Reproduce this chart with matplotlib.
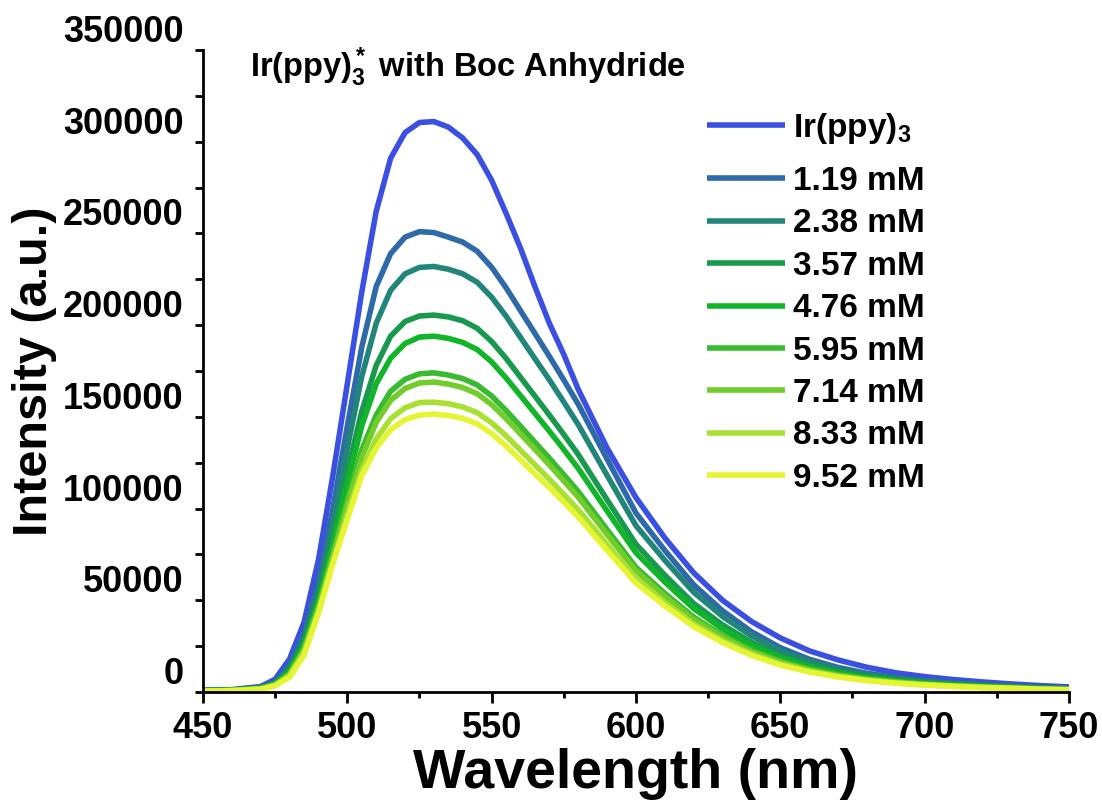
import matplotlib
matplotlib.use('Agg')
import matplotlib.pyplot as plt
from matplotlib.ticker import MultipleLocator

# 字体设置
plt.rcParams['font.family'] = 'Liberation Sans'
plt.rcParams['font.weight'] = 'bold'
plt.rcParams['mathtext.fontset'] = 'custom'
plt.rcParams['mathtext.rm'] = 'Liberation Sans:bold'
plt.rcParams['mathtext.it'] = 'Liberation Sans:bold'
plt.rcParams['mathtext.bf'] = 'Liberation Sans:bold'
plt.rcParams['mathtext.default'] = 'rm'

# 波长 (nm)
wavelength = [450, 460, 470, 475, 480, 485, 490, 495, 500, 505, 510, 515, 520, 525,
              530, 535, 540, 545, 550, 555, 560, 565, 570, 575, 580, 590, 600, 610,
              620, 630, 640, 650, 660, 670, 680, 690, 700, 710, 720, 730, 740, 750]

# 各浓度下的发光强度
ir_ppy3 = [1000, 1300, 3000, 7000, 18000, 38000, 72000, 118000, 168000, 218000, 262000,
           291000, 305000, 310500, 311000, 308000, 302000, 293000, 279000, 261000, 242000,
           221000, 201000, 184000, 165000, 133000, 106000, 84000, 65000, 50000, 38500,
           29500, 22500, 17500, 13500, 10500, 8400, 6800, 5500, 4400, 3500, 2800]
c_119 = [800, 1100, 2500, 5500, 14500, 32000, 60000, 100000, 145000, 188000, 221000,
         239000, 248000, 251000, 250500, 248000, 245300, 240300, 231600, 220400, 207900,
         195500, 183000, 170100, 156900, 127000, 97600, 77200, 58500, 44300, 32900,
         24200, 17900, 13400, 10200, 8000, 6200, 5000, 4000, 3200, 2500, 2000]
c_238 = [800, 1000, 2300, 5000, 13000, 29000, 55000, 92000, 133000, 172000, 201000,
         219000, 228000, 231500, 232000, 230500, 228000, 223400, 215300, 204900, 193300,
         181700, 170200, 158100, 145800, 118100, 90700, 71800, 54400, 41200, 30600,
         22500, 16700, 12500, 9500, 7400, 5800, 4600, 3700, 3000, 2300, 1900]
c_357 = [700, 1000, 2100, 4500, 12000, 27000, 51000, 84000, 120000, 153000, 178000,
         194000, 202000, 205000, 205500, 204500, 202400, 198300, 191100, 181900, 171600,
         161300, 151000, 140400, 129500, 104800, 80600, 63700, 48300, 36600, 27100,
         19900, 14800, 11100, 8400, 6600, 5100, 4100, 3300, 2700, 2100, 1600]
c_476 = [700, 900, 2000, 4300, 11000, 25500, 49000, 80000, 114000, 145000, 168000,
         182000, 190000, 193500, 194000, 192800, 190600, 186700, 180000, 171200, 161600,
         151900, 142200, 132200, 121900, 98700, 75900, 60000, 45500, 34400, 25500,
         18800, 13900, 10400, 7900, 6200, 4800, 3900, 3100, 2500, 1900, 1500]
c_595 = [600, 900, 1900, 4000, 10000, 24000, 47000, 76000, 105000, 132000, 151000,
         164000, 170500, 173500, 174000, 172800, 170900, 167400, 161400, 153500, 144900,
         136200, 127500, 118500, 109300, 88500, 68000, 53800, 40800, 30900, 22900,
         16800, 12500, 9400, 7100, 5600, 4300, 3500, 2800, 2300, 1700, 1400]
c_714 = [600, 800, 1800, 3800, 9500, 23000, 45500, 74000, 102000, 128000, 147000,
         159000, 165500, 168500, 169000, 167900, 166000, 162600, 156700, 149100, 140700,
         132300, 123800, 115100, 106200, 85900, 66100, 52200, 39600, 30000, 22200,
         16300, 12100, 9100, 6900, 5400, 4200, 3400, 2700, 2200, 1700, 1300]
c_833 = [500, 800, 1700, 3600, 9000, 21500, 44000, 71000, 97000, 121000, 138000,
         149000, 155000, 157800, 158000, 157200, 155400, 152300, 146800, 139700, 131800,
         123900, 116000, 107800, 99400, 80500, 61900, 48900, 37100, 28100, 20800,
         15300, 11400, 8500, 6500, 5000, 3900, 3200, 2500, 2100, 1600, 1300]
c_952 = [500, 700, 1500, 3500, 8000, 20000, 43000, 70000, 94000, 118000, 133000,
         143000, 148500, 151000, 151500, 150800, 149200, 146200, 140900, 134100, 126500,
         118900, 111400, 103500, 95400, 77300, 59400, 47000, 35600, 27000, 20000,
         14700, 10900, 8200, 6200, 4800, 3800, 3000, 2400, 2000, 1500, 1200]

series = [ir_ppy3, c_119, c_238, c_357, c_476, c_595, c_714, c_833, c_952]
labels = [r'Ir(ppy)$_3$', '1.19 mM', '2.38 mM', '3.57 mM', '4.76 mM',
          '5.95 mM', '7.14 mM', '8.33 mM', '9.52 mM']
colors = ['#3b4fe0', '#2e6aa8', '#21857a', '#18994e', '#12b52a',
          '#38bb30', '#72cc2a', '#a9e034', '#e6f533']

fig = plt.figure(figsize=(11.02, 8.11), dpi=100)
ax = fig.add_axes([0.1842, 0.1467, 0.7858, 0.7916])

lines = []
for y, lab, col in zip(series, labels, colors):
    ln, = ax.plot(wavelength, y, color=col, lw=4.0, label=lab, solid_capstyle='butt')
    lines.append(ln)

ax.set_xlim(450, 750)
ax.set_ylim(0, 350000)
ax.xaxis.set_major_locator(MultipleLocator(50))
ax.xaxis.set_minor_locator(MultipleLocator(25))
ax.yaxis.set_major_locator(MultipleLocator(50000))
ax.yaxis.set_minor_locator(MultipleLocator(25000))

for side in ['top', 'right']:
    ax.spines[side].set_visible(False)
for side in ['left', 'bottom']:
    ax.spines[side].set_linewidth(2.0)

ax.tick_params(axis='both', which='both', direction='out', width=2.0, labelsize=26)
ax.tick_params(axis='x', which='major', length=8, pad=6)
ax.tick_params(axis='x', which='minor', length=4.5)
ax.tick_params(axis='y', which='major', length=6, pad=8)
ax.tick_params(axis='y', which='minor', length=6)
plt.setp(ax.get_yticklabels(), va='bottom')

ax.set_xlabel('Wavelength (nm)', fontsize=40, fontweight='bold', labelpad=1)
ax.set_ylabel('Intensity (a.u.)', fontsize=35, fontweight='bold', labelpad=4)

ax.text(0.054, 0.958, r'Ir(ppy)$_3^*$ with Boc Anhydride', transform=ax.transAxes,
        fontsize=23.5, va='baseline', ha='left')

# 图例分两部分, 第一项与其余项之间间距较大
leg_kw = dict(loc='upper left', frameon=False, fontsize=24, handlelength=2.34,
              handletextpad=0.24, labelspacing=0.342, borderpad=0, borderaxespad=0)
leg1 = ax.legend(handles=lines[:1], bbox_to_anchor=(0.582, 0.9058), **leg_kw)
ax.add_artist(leg1)
ax.legend(handles=lines[1:], bbox_to_anchor=(0.582, 0.8193), **leg_kw)

fig.savefig('out.png', dpi=100)
